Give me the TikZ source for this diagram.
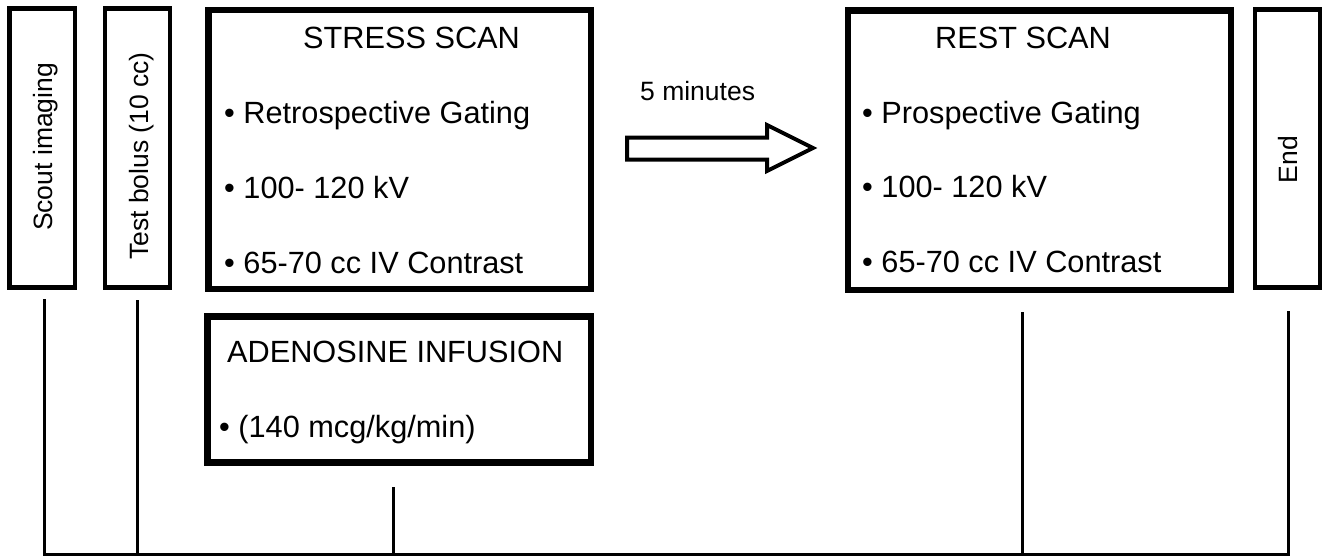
\documentclass[tikz,border=0pt]{standalone}
\usepackage{fontspec}
\setmainfont{Liberation Sans}
\newcommand{\bigtxt}{\fontsize{30.7}{36}\selectfont}
\newcommand{\smalltxt}{\fontsize{26.5}{32}\selectfont}
\begin{document}
\begin{tikzpicture}[x=1pt,y=-1pt,
  thinbox/.style={draw=black,line width=4.5pt,fill=white,inner sep=0pt,outer sep=0pt},
  thickbox/.style={draw=black,line width=6.5pt,fill=white,inner sep=0pt,outer sep=0pt},
  sidelabel/.style={rotate=90,anchor=base,inner sep=0pt,font=\smalltxt},
  boxtext/.style={anchor=base west,inner sep=0pt,font=\bigtxt},
  drop/.style={line width=3pt},
  bigarrow/.style={draw=black,fill=white,line width=4pt,miter limit=10}]
\useasboundingbox (0,0) rectangle (1329,557);

% phase boxes
\node[thinbox,minimum width=65.5pt,minimum height=279pt] (scout) at (42.25,148) {};
\node[thinbox,minimum width=65pt,minimum height=279pt] (bolus) at (137.5,148) {};
\node[thickbox,minimum width=382.5pt,minimum height=279pt] (stress) at (399.75,149.5) {};
\node[thickbox,minimum width=383pt,minimum height=279.5pt] (rest) at (1039.5,150.25) {};
\node[thinbox,minimum width=65pt,minimum height=278pt] (end) at (1287.5,148.5) {};
\node[thickbox,minimum width=383.5pt,minimum height=146pt] (adeno) at (399.25,389.5) {};

% vertical labels
\node[sidelabel] (scoutlbl) at (52.5,147) {Scout imaging};
\node[sidelabel] (boluslbl) at (148.5,156) {Test bolus (10 cc)};
\node[sidelabel] (endlbl) at (1297,159.5) {End};

% stress scan contents
\node[boxtext] (stitle) at (303,48) {STRESS SCAN};
\node[boxtext] (s1) at (224,123) {\textbullet\ Retrospective Gating};
\node[boxtext] (s2) at (224,198) {\textbullet\ 100- 120 kV};
\node[boxtext] (s3) at (224,273) {\textbullet\ 65-70 cc IV Contrast};

% rest scan contents
\node[boxtext] (rtitle) at (935,48) {REST SCAN};
\node[boxtext] (r1) at (862,123) {\textbullet\ Prospective Gating};
\node[boxtext] (r2) at (862,197) {\textbullet\ 100- 120 kV};
\node[boxtext] (r3) at (862,272) {\textbullet\ 65-70 cc IV Contrast};

% adenosine contents
\node[boxtext] (atitle) at (227,362) {ADENOSINE INFUSION};
\node[boxtext] (a1) at (219,437) {\textbullet\ (140 mcg/kg/min)};

% waiting interval
\node[anchor=base west,inner sep=0pt,font=\smalltxt] (wait) at (640,100) {5 minutes};
\draw[bigarrow] (627,137.5) -- (767,137.5) -- (767,125) -- (813,148)
  -- (767,171) -- (767,159.5) -- (627,159.5) -- cycle;

% timeline
\coordinate (t1) at (44,300);
\coordinate (t2) at (137,300);
\coordinate (t3) at (393,487);
\coordinate (t4) at (1022,312);
\coordinate (t5) at (1288,312);
\coordinate (b1) at (44,554);
\coordinate (b2) at (137,554);
\coordinate (b3) at (393,554);
\coordinate (b4) at (1022,554);
\coordinate (b5) at (1288,554);
\draw[drop,line cap=rect] (t1) -- (b1) -- (b5) -- (t5);
\draw[drop] (t2) -- (b2);
\draw[drop] (t3) -- (b3);
\draw[drop] (t4) -- (b4);
\end{tikzpicture}
\end{document}
